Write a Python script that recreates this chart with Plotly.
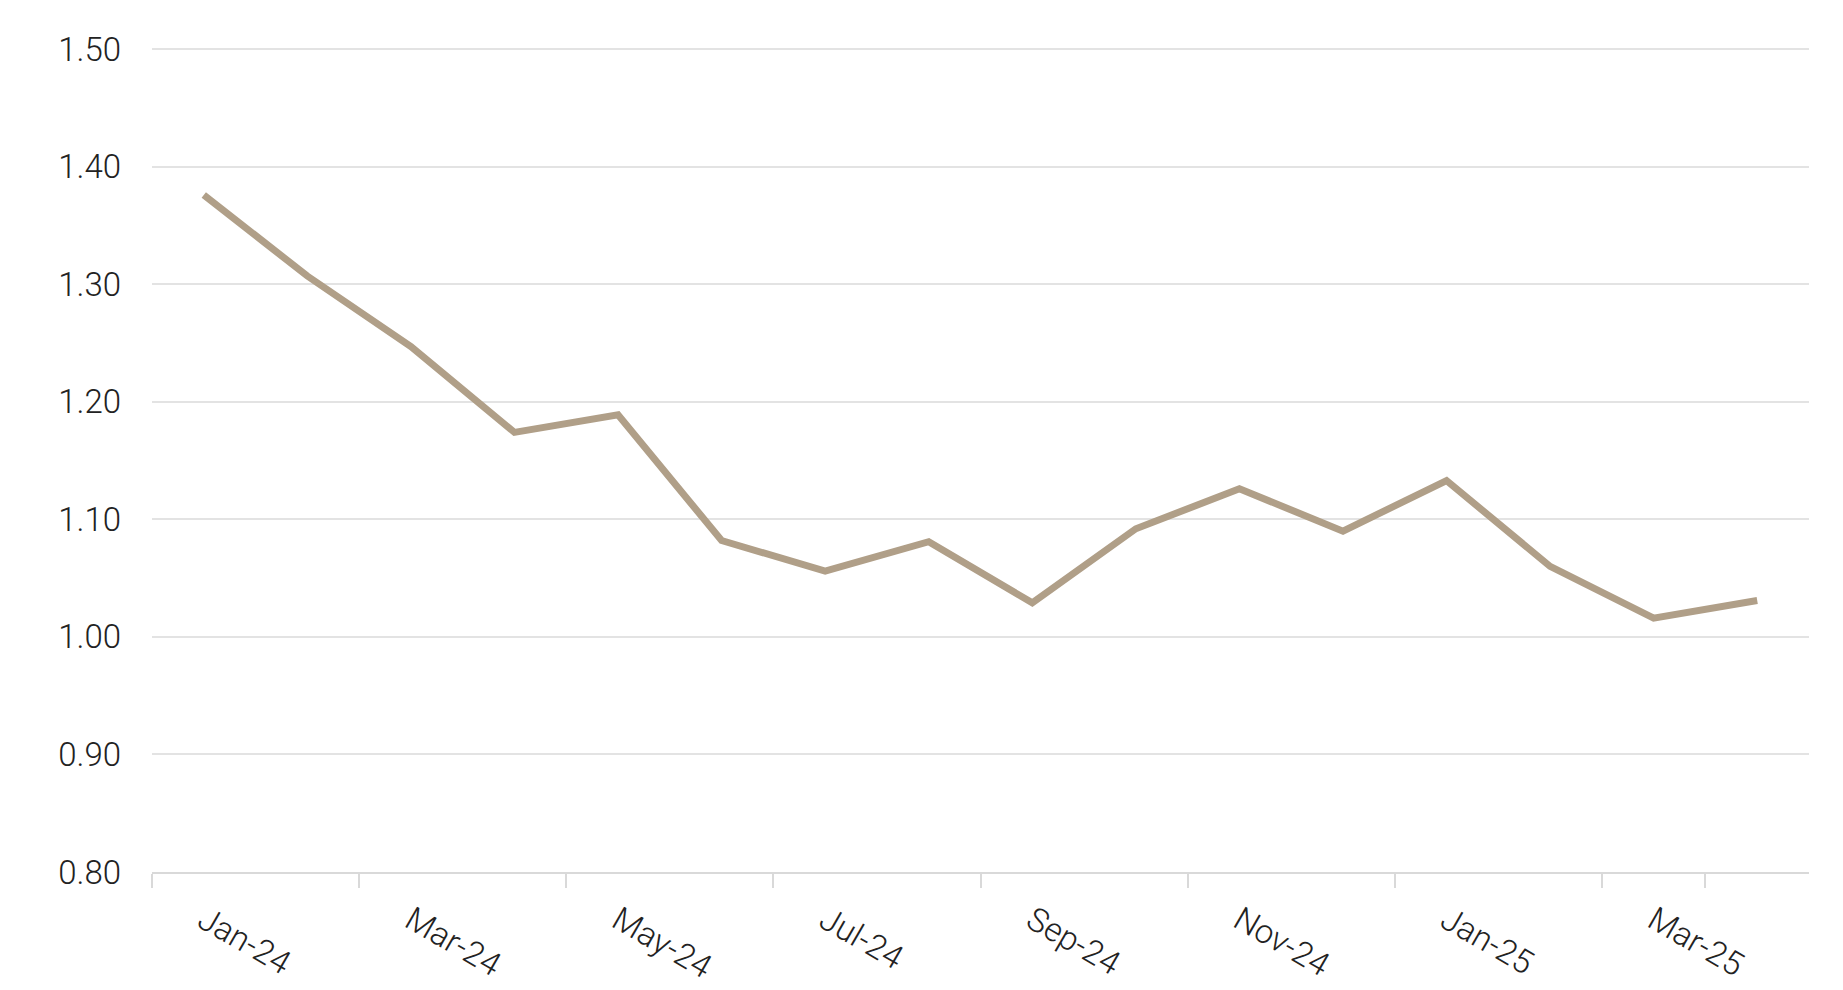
import plotly.graph_objects as go

months = ["Jan-24", "Feb-24", "Mar-24", "Apr-24", "May-24", "Jun-24", "Jul-24", "Aug-24",
          "Sep-24", "Oct-24", "Nov-24", "Dec-24", "Jan-25", "Feb-25", "Mar-25", "Apr-25"]
values = [1.376, 1.307, 1.247, 1.174, 1.189, 1.082, 1.056, 1.081,
          1.029, 1.092, 1.126, 1.090, 1.133, 1.060, 1.016, 1.031]

fig = go.Figure(go.Scatter(x=months, y=values, mode="lines",
                           line=dict(color="#b09f88", width=7)))

fig.update_layout(
    width=1843, height=990,
    plot_bgcolor="white", paper_bgcolor="white",
    margin=dict(l=144, r=42, t=40, b=100),
    font=dict(family="Roboto, Open Sans, sans-serif", size=33, color="#222", weight=300),
    showlegend=False,
)
fig.update_xaxes(type="category", range=[-0.5, 15.5], tickmode="array", tickvals=months[::2],
                 tickson="boundaries", ticks="outside", ticklen=14, tickcolor="#d9d9d9",
                 tickwidth=2, ticklabelstandoff=14,
                 showline=True, linecolor="#d9d9d9", linewidth=2, showgrid=False)
fig.update_yaxes(range=[0.8, 1.501], tickvals=[0.8, 0.9, 1.0, 1.1, 1.2, 1.3, 1.4, 1.5],
                 tickformat=".2f", ticklabelstandoff=30,
                 showgrid=True, gridcolor="#e3e3e3", gridwidth=2, zeroline=False)

fig.write_html("out.html")
